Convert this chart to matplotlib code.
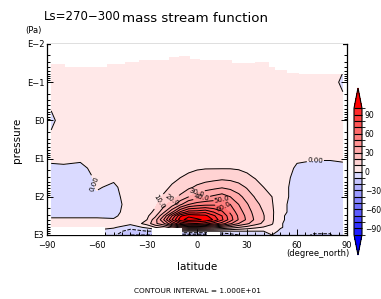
import numpy as np
import matplotlib
matplotlib.use("Agg")
import matplotlib.pyplot as plt
from matplotlib.colors import ListedColormap, BoundaryNorm

# grid of the field (latitude in degrees, log10 of pressure in Pa)
lats = [-87.5, -80, -70, -60, -50, -40, -30, -25, -20, -15, -10, -5, 0, 5,
        10, 15, 20, 25, 30, 35, 40, 45, 50, 60, 70, 80, 87.5]
log_p = [-2.0, -1.5, -1.0, -0.5, 0.0, 0.5, 1.0, 1.25, 1.5, 1.75, 2.0, 2.2,
         2.4, 2.5, 2.6, 2.7, 2.8, 2.9, 3.0]

# mass stream function, one row per latitude (top -> surface)
psi_by_lat = [
    [1, 1, 0.5, 0.5, -0.5, 0.5, 0.3, -0.3, -0.5, -0.5, -0.5, -0.5, -0.5, -0.3, 0.3, 0.5, 0.5, 0.5, 0.5],
    [3, 3, 2, 2, 1, 2, 1.5, -1, -3, -3, -3, -3, -2, -1, 1, 2, 2, 2, 2],
    [3, 3, 3, 3, 3, 3, 1, -1.5, -3, -3, -3, -3, -2, -1, 1, 2, 2, 2, 2],
    [3, 3, 3, 3, 3, 3, 3, 2, 1, 0.5, -1, -3, -2, -1, 1, 2, 2, -1, -3],
    [3, 3, 3, 3, 3, 3, 3, 2, 1, -1, -2, -3, -2, -1, 0.5, 2, 1, -4, -8],
    [3, 3, 3, 3, 3, 3, 3, 3, 3, 3, 3, 3, 3, 3, 3, 2, -5, -15, -20],
    [3, 3, 3, 3, 3, 3, 4, 4, 4, 4, 5, 6, 7, 8, 10, 14, 2, -10, -20],
    [3, 3, 3, 3, 4, 4, 4, 4, 5, 6, 7, 8.5, 12, 18, 26, 28, 10, -10, -20],
    [3, 3, 3, 3, 4, 4, 5, 5, 6, 8, 11, 16, 28, 40, 50, 38, 15, -5, -20],
    [3, 3, 3, 4, 4, 4, 5, 6, 8, 11, 16, 25, 48, 70, 80, 60, 25, 0, -20],
    [3, 3, 4, 4, 4, 5, 6, 7, 10, 14, 22, 38, 72, 98, 106, 80, 35, 0, -25],
    [3, 3, 4, 4, 5, 5, 6, 8, 12, 18, 30, 50, 85, 108, 115, 88, 40, 0, -25],
    [3, 3, 4, 4, 5, 5, 6.5, 9, 14, 22, 35, 55, 85, 105, 112, 90, 40, 0, -25],
    [3, 3, 4, 4, 5, 6, 7, 9.5, 15.5, 25, 39, 57, 88, 103, 108, 85, 38, 0, -25],
    [3, 3, 4, 4, 5, 6, 7, 9.5, 16.5, 27, 42, 58, 80, 92, 99, 75, 35, 0, -25],
    [3, 3, 4, 4, 5, 6, 7, 9.5, 17.5, 29, 45, 58, 72, 80, 82, 65, 30, 0, -20],
    [3, 3, 4, 4, 5, 6, 7, 9.5, 17, 27, 40, 50, 58, 63, 65, 52, 25, 0, -15],
    [3, 3, 4, 4, 5, 6, 6.5, 9, 15, 24, 33, 40, 45, 48, 49, 40, 20, 0, -10],
    [3, 3, 4, 4, 5, 5, 6, 8, 12, 19, 26, 31, 35, 37, 38, 32, 16, 0, -8],
    [3, 3, 4, 4, 5, 5, 5.5, 7, 9.5, 14, 19, 23, 26, 27, 28, 24, 12, 0, -5],
    [3, 3, 3, 4, 4, 5, 5, 6, 7.5, 10, 14, 17, 19.5, 20.5, 20.5, 18, 9, 0, -3],
    [3, 3, 3, 4, 4, 4, 4, 5, 6, 8, 10, 11, 12, 12, 12, 11, 7, 2, 0],
    [3, 3, 3, 3, 4, 4, 4, 4, 3, 3, 3, 2, 2, 1, 1, 0.5, 0.5, -1, -2],
    [3, 3, 3, 3, 3, 3, 1, -1, -2, -3, -3, -3, -3, -3, -3, -3, -3, -5, -6],
    [3, 3, 3, 3, 3, 3, 0.5, -2, -3, -3, -3, -4, -4, -4, -4, -4, -5, -8, -11],
    [2, 2, 1, 2, 2, 2, 0.5, -2, -3, -3, -3, -4, -4, -4, -4, -4, -5, -8, -11],
    [1, 0.5, -0.5, 0.5, 0.5, 0.5, 0.3, -0.5, -0.5, -0.5, -0.5, -0.5, -0.5, -0.5, -0.5, -0.5, -0.5, -0.5, -0.5],
]

# top of the valid data (log10 p) in latitude bands
top_edges = [-87.5, -79, -54, -43, -35, -17, -11, -4, 2, 21, 35, 43, 47, 54, 61, 87.5]
top_logp = [-1.48, -1.41, -1.48, -1.54, -1.58, -1.65, -1.69, -1.62, -1.58, -1.49,
            -1.54, -1.39, -1.32, -1.25, -1.21]
# bottom of the valid data (surface)
surf_edges = [-87.5, -55, -27, -9, 6, 14, 87.5]
surf_logp = [2.8, 3.0, 2.82, 3.0, 2.93, 3.0]

xtick_vals = [-90, -60, -30, 0, 30, 60, 90]
xtick_labels = ["\u221290", "\u221260", "\u221230", "0", "30", "60", "90"]
ytick_vals = [-2, -1, 0, 1, 2, 3]
ytick_labels = ["E\u22122", "E\u22121", "E0", "E1", "E2", "E3"]
cbar_ticks = [-90, -60, -30, 0, 30, 60, 90]

Z = np.array(psi_by_lat, dtype=float).T

fill_levels = np.arange(-100, 101, 10)
lab_fmt = {0: '0.00', 10: '10.0', 20: '20.0', 30: '30.0', 40: '40.0', 50: '50.0', 60: '60.0'}
lab_levels = list(lab_fmt.keys())
other_levels = [v for v in range(-150, 151, 10) if v not in lab_fmt]

# colour table: light -> saturated, blue for negative, red for positive
pos_cols = [(1.0, (232 - 21 * k) / 255.0, (232 - 21 * k) / 255.0) for k in range(10)]
neg_cols = [((218 - 21 * k) / 255.0, (218 - 21 * k) / 255.0, 1.0) for k in range(10)][::-1]
cmap = ListedColormap(neg_cols + pos_cols)
cmap.set_over((1.0, 0.0, 0.0))
cmap.set_under((0.0, 0.0, 1.0))
norm = BoundaryNorm(fill_levels, cmap.N)

plt.rcParams['font.family'] = 'DejaVu Sans'
fig = plt.figure(figsize=(3.81, 2.99), dpi=100)
ax = fig.add_axes([47 / 381, 1 - 235 / 299, 300 / 381, 191 / 299])

cf = ax.contourf(lats, log_p, Z, levels=fill_levels, cmap=cmap, norm=norm, extend='both')
cs_o = ax.contour(lats, log_p, Z, levels=other_levels, colors='k', linewidths=0.7)
cs_l = ax.contour(lats, log_p, Z, levels=lab_levels, colors='k', linewidths=0.7)

# white where there is no data (top of model and below surface)
ax.fill_between(top_edges, -2.0, top_logp + [top_logp[-1]], step='post',
                color='white', lw=0, zorder=3)
ax.fill_between(surf_edges, surf_logp + [surf_logp[-1]], 3.0, step='post',
                color='white', lw=0, zorder=3)

lab_pos = [(-67, 1.7), (71, 1.07), (-22, 2.15), (-15, 2.09), (0, 1.93),
           (3, 2.08), (15, 2.07), (16, 2.25)]
ax.clabel(cs_l, fmt=lab_fmt, fontsize=5, inline=True, inline_spacing=1,
          manual=lab_pos)

ax.set_xlim(-90, 90)
ax.set_ylim(3, -2)
ax.set_xticks(xtick_vals)
ax.set_xticklabels(xtick_labels, fontsize=6)
ax.set_xticks(np.arange(-90, 91, 5), minor=True)
ax.set_yticks(ytick_vals)
ax.set_yticklabels(ytick_labels, fontsize=6)
ax.set_yticks([d + np.log10(k) for d in range(-2, 3) for k in range(2, 10)], minor=True)
ax.tick_params(which='both', direction='in', top=True, right=True, width=0.7)
ax.tick_params(axis='x', pad=4)
ax.tick_params(axis='y', pad=2)
ax.tick_params(which='major', length=4)
ax.tick_params(which='minor', length=2)
for s in ax.spines.values():
    s.set_linewidth(0.9)

fig.text(44 / 381, 1 - 20 / 299, "Ls=270\u2212300", fontsize=8.5, ha='left', va='baseline')
fig.text(122 / 381, 1 - 22 / 299, "mass stream function", fontsize=9.6, ha='left', va='baseline')
fig.text(33 / 381, 1 - 31 / 299, "(Pa)", fontsize=6, ha='center', va='center')
fig.text(17 / 381, 1 - 140 / 299, "pressure", fontsize=7.5, rotation=90, ha='center', va='center')
fig.text(197 / 381, 1 - 267 / 299, "latitude", fontsize=7.5, ha='center', va='center')
fig.text(318 / 381, 1 - 253 / 299, "(degree_north)", fontsize=6, ha='center', va='center')
fig.text(198 / 381, 1 - 291 / 299, "CONTOUR INTERVAL = 1.000E+01", fontsize=5.3,
         ha='center', va='center')

cax = fig.add_axes([354 / 381, 1 - 255 / 299, 8 / 381, 167 / 299])
cb = fig.colorbar(cf, cax=cax, extend='both', extendfrac=0.16, drawedges=True,
                  ticks=cbar_ticks)
cb.outline.set_linewidth(0.8)
cb.dividers.set_linewidth(0.8)
cax.tick_params(labelsize=5.5, length=0, pad=2)

fig.savefig("out.png", dpi=100)
